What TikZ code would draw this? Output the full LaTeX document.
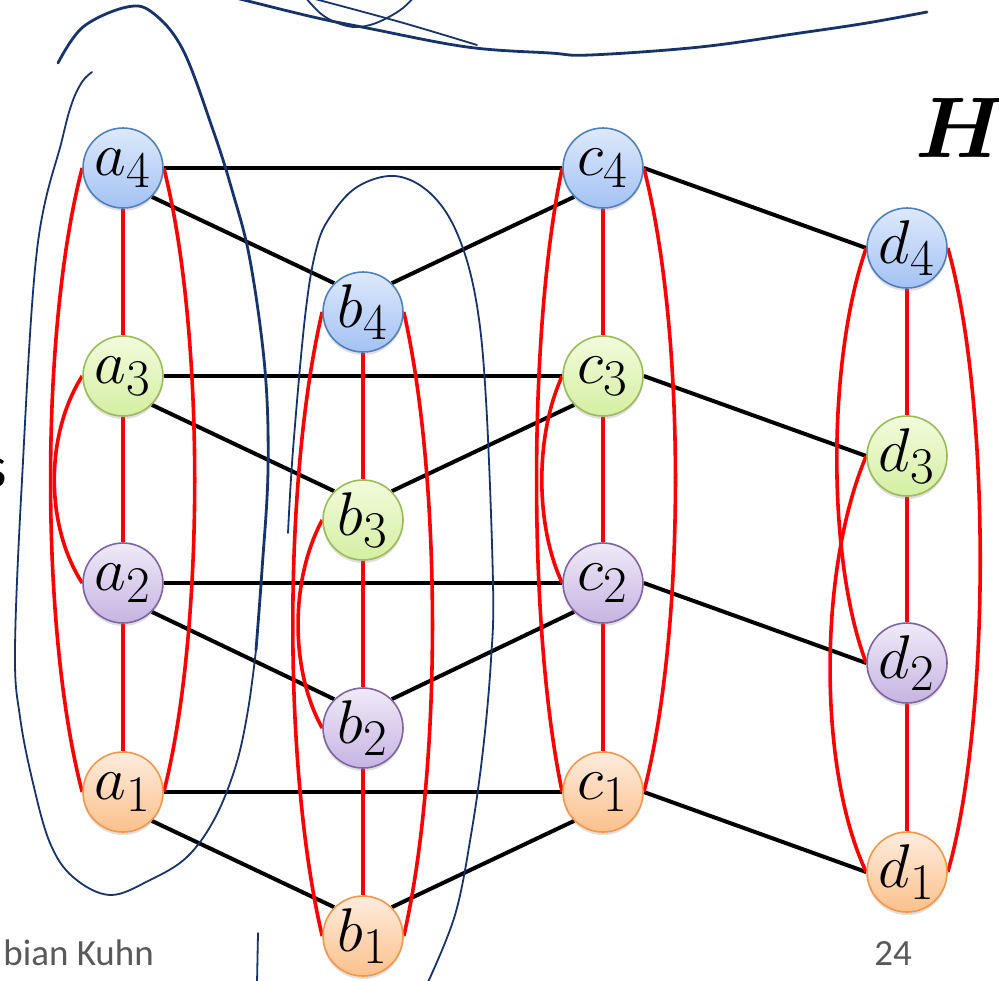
\documentclass[tikz,border=0pt]{standalone}
\usepackage{fontspec}
\newfontfamily\calibri{Carlito}
\usetikzlibrary{shadows}
\definecolor{blueT}{HTML}{DDE9FC}
\definecolor{blueD}{HTML}{A4C2F4}
\definecolor{blueB}{HTML}{4F81BD}
\definecolor{greenT}{HTML}{F2FBDC}
\definecolor{greenD}{HTML}{D4EFA2}
\definecolor{greenB}{HTML}{9BBB59}
\definecolor{purpT}{HTML}{EFEAF7}
\definecolor{purpD}{HTML}{C6B4E2}
\definecolor{purpB}{HTML}{8064A2}
\definecolor{oranT}{HTML}{FEECDD}
\definecolor{oranD}{HTML}{FBC18C}
\definecolor{oranB}{HTML}{F79646}
\definecolor{inkC}{HTML}{17336B}
\definecolor{redC}{HTML}{FF0000}
\definecolor{grayT}{HTML}{595959}
\pgfdeclarelayer{bg}
\pgfsetlayers{bg,main}
\newcommand{\lbl}[1]{\scalebox{1.24}{\Huge$#1$}}
\tikzset{
  vtx/.style={circle, minimum size=40pt, inner sep=0pt, draw, line width=0.8pt,
    drop shadow={opacity=0.25, shadow xshift=0pt, shadow yshift=-1.5pt}},
  vb/.style={vtx, draw=blueB, top color=blueT, bottom color=blueD},
  vg/.style={vtx, draw=greenB, top color=greenT, bottom color=greenD},
  vp/.style={vtx, draw=purpB, top color=purpT, bottom color=purpD},
  vo/.style={vtx, draw=oranB, top color=oranT, bottom color=oranD},
  blk/.style={line width=2pt, draw=black},
  rede/.style={line width=1.8pt, draw=redC},
  ink/.style={draw=inkC, line width=0.9pt, line cap=round, line join=round},
  inkthick/.style={ink, line width=1.4pt},
  footer/.style={text=grayT, font=\calibri\fontsize{18.5}{21}\selectfont, inner sep=0pt}
}
\begin{document}
\begin{tikzpicture}[x=0.5pt,y=-0.5pt]
\useasboundingbox (0,0) rectangle (999,980);
% nodes
\node[vb] (a4) at (123,168) {\lbl{a_4}};
\node[vg] (a3) at (123,376) {\lbl{a_3}};
\node[vp] (a2) at (123,583) {\lbl{a_2}};
\node[vo] (a1) at (123,792) {\lbl{a_1}};
\node[vb] (b4) at (363,312) {\lbl{b_4}};
\node[vg] (b3) at (363,520) {\lbl{b_3}};
\node[vp] (b2) at (363,728) {\lbl{b_2}};
\node[vo] (b1) at (363,936) {\lbl{b_1}};
\node[vb] (c4) at (603,168) {\lbl{c_4}};
\node[vg] (c3) at (603,376) {\lbl{c_3}};
\node[vp] (c2) at (603,583) {\lbl{c_2}};
\node[vo] (c1) at (603,792) {\lbl{c_1}};
\node[vb] (d4) at (907,248) {\lbl{d_4}};
\node[vg] (d3) at (907,456) {\lbl{d_3}};
\node[vp] (d2) at (907,663) {\lbl{d_2}};
\node[vo] (d1) at (907,872) {\lbl{d_1}};
\begin{pgfonlayer}{bg}
% black edges
\foreach \i in {1,2,3,4}{
  \draw[blk] (a\i.east) -- (c\i.west);
  \draw[blk] (a\i.south east) -- (b\i.north west);
  \draw[blk] (b\i.north east) -- (c\i.south west);
  \draw[blk] (c\i.east) -- (d\i.west);
}
% red vertical edges
\foreach \x in {a,b,c,d}{
  \draw[rede] (\x4.south) -- (\x3.north);
  \draw[rede] (\x3.south) -- (\x2.north);
  \draw[rede] (\x2.south) -- (\x1.north);
}
% red curves
\draw[rede] (a4.west) .. controls (40,330) and (40,630) .. (a1.west);
\draw[rede] (a4.east) .. controls (205,330) and (205,630) .. (a1.east);
\draw[rede] (a3.west) .. controls (45,435) and (45,525) .. (a2.west);
\draw[rede] (b4.west) .. controls (283,480) and (283,770) .. (b1.west);
\draw[rede] (b4.east) .. controls (442,480) and (442,770) .. (b1.east);
\draw[rede] (b3.west) .. controls (290,580) and (290,670) .. (b2.west);
\draw[rede] (c4.west) .. controls (528,330) and (528,630) .. (c1.west);
\draw[rede] (c4.east) .. controls (686,330) and (686,630) .. (c1.east);
\draw[rede] (c3.west) .. controls (535,435) and (535,525) .. (c2.west);
\draw[rede] (d4.west) .. controls (827,360) and (827,560) .. (d2.west);
\draw[rede] (d3.west) .. controls (818,570) and (818,770) .. (d1.west);
\draw[rede] (d4.east) .. controls (991,400) and (991,720) .. (d1.east);
\end{pgfonlayer}
% texts
\node[inner sep=0pt] (H) at (961,128) {\scalebox{1.73}{\Huge\boldmath$H$}};
\node[footer, anchor=base west] (auth) at (3,965) {bian Kuhn};
\node[footer, anchor=base west] (page) at (874,965) {24};
\node[inner sep=0pt, anchor=base east, font=\calibri\fontsize{30}{34}\selectfont] (s) at (7,487) {s};
% ink annotations
\draw[inkthick] plot[smooth, tension=0.6] coordinates {(232,-3) (313,17) (367,28) (467,47) (550,53) (590,55) (700,47) (800,33) (867,23) (927,12)};
\draw[ink] plot[smooth, tension=0.6] coordinates {(305,-3) (320,13) (335,22) (353,27) (370,25) (387,18) (403,8) (414,-3)};
\draw[ink] plot[smooth, tension=0.6] coordinates {(315,-1) (400,22) (477,45)};
\draw[inkthick] plot[smooth, tension=0.6] coordinates {(58,63) (83,27) (127,7) (153,13) (183,50) (213,130) (232,190) (250,260) (265,370) (268,470) (262,570) (256,650)};
\draw[ink] plot[smooth, tension=0.6] coordinates {(256,650) (248,710) (236,765) (215,818) (187,857) (150,880) (110,895) (73,877) (50,843) (33,783) (20,717) (15,650) (22,480) (37,250) (62,140) (72,103) (82,82) (92,72)};
\draw[ink] plot[smooth, tension=0.6] coordinates {(288,533) (293,450) (305,317) (316,250) (330,217) (357,187) (395,176) (430,193) (457,233) (476,300) (486,400) (493,583) (491,660) (483,750) (471,835) (455,915) (428,982)};
\draw[ink] (258,933) -- (257,983);
\end{tikzpicture}
\end{document}
